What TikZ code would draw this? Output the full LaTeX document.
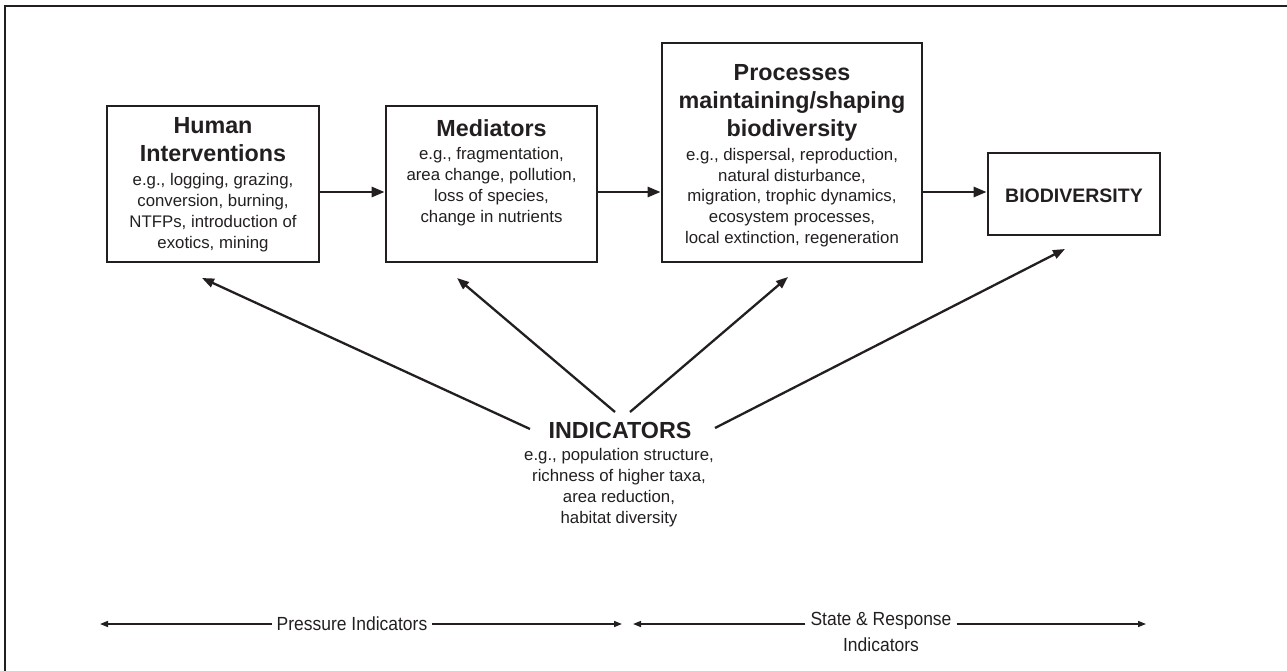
\documentclass[tikz,border=0pt]{standalone}
\usepackage{fontspec}
\setmainfont{Liberation Sans}
\newfontfamily\narrowfont[FakeStretch=0.92]{Liberation Sans}
\usetikzlibrary{arrows.meta}
\definecolor{ink}{HTML}{231F20}
\tikzset{
  box/.style={draw=ink, line width=2.8pt, minimum width=#1, inner sep=0pt},
  ttl/.style={text=ink, align=center, inner sep=0pt, font=\bfseries\fontsize{23.3}{28}\selectfont},
  bdy/.style={text=ink, align=center, inner sep=0pt, font=\fontsize{16.8}{20.8}\selectfont},
  harr/.style={draw=ink, line width=2.8pt, -{Triangle[length=13pt,width=10pt]}},
  darr/.style={draw=ink, line width=2.3pt, -{Triangle[length=12pt,width=9pt]}},
  barr/.style={draw=ink, line width=1.5pt, -{Triangle[length=8pt,width=6pt]}},
  blab/.style={text=ink, align=center, inner xsep=5pt, inner ysep=0pt, font=\narrowfont\fontsize{19}{26}\selectfont},
}
\begin{document}
\begin{tikzpicture}[x=1pt,y=-1pt]
\useasboundingbox (0,0) rectangle (1287,671);
% frame
\draw[ink, line width=2pt] (1287,6) -- (4.5,6) -- (4.5,671);
% boxes
\node[box=212pt, minimum height=156pt] (hbox) at (213,184) {};
\node[box=211pt, minimum height=156pt] (mbox) at (491.5,184) {};
\node[box=260pt, minimum height=219pt] (pbox) at (792,152.5) {};
\node[box=172pt, minimum height=82pt] (bbox) at (1074,194) {};
% texts
\node[ttl] (htitle) at (213,139.5) {Human\\Interventions};
\node[bdy] (hbody) at (213,212.5) {e.g., logging, grazing,\\conversion, burning,\\NTFPs, introduction of\\exotics, mining};
\node[ttl] (mtitle) at (491.5,128) {Mediators};
\node[bdy] (mbody) at (491.5,186.5) {e.g., fragmentation,\\area change, pollution,\\loss of species,\\change in nutrients};
\node[ttl] (ptitle) at (792,102.5) {Processes\\maintaining/shaping\\biodiversity};
\node[bdy] (pbody) at (792,197.5) {e.g., dispersal, reproduction,\\natural disturbance,\\migration, trophic dynamics,\\ecosystem processes,\\local extinction, regeneration};
\node[ttl, font=\bfseries\fontsize{19.5}{24}\selectfont] (btitle) at (1074,196) {BIODIVERSITY};
\node[ttl] (ititle) at (620,430) {INDICATORS};
\node[bdy] (ibody) at (619,487.5) {e.g., population structure,\\richness of higher taxa,\\area reduction,\\habitat diversity};
% horizontal arrows
\coordinate (row) at (0,192);
\draw[harr] (hbox.east |- row) -- (mbox.west |- row);
\draw[harr] (mbox.east |- row) -- (pbox.west |- row);
\draw[harr] (pbox.east |- row) -- (bbox.west |- row);
% indicator arrows
\coordinate (s1) at (530,429);
\coordinate (s2) at (615,412);
\coordinate (s3) at (630,412);
\coordinate (s4) at (715,428);
\coordinate (t1) at (202,278);
\coordinate (t2) at (457,278);
\coordinate (t3) at (788,277);
\coordinate (t4) at (1065,249);
\draw[darr] (s1) -- (t1);
\draw[darr] (s2) -- (t2);
\draw[darr] (s3) -- (t3);
\draw[darr] (s4) -- (t4);
% bottom scale
\coordinate (bot) at (0,624);
\node[blab] (press) at (352,624) {Pressure Indicators};
\coordinate (pl) at (100,624);
\coordinate (pr) at (622,624);
\draw[barr] (press.west) -- (pl);
\draw[barr] (press.east) -- (pr);
\node[blab, anchor=north] (state) at (881,612) {State \& Response\\Indicators};
\coordinate (sl) at (633,624);
\coordinate (sr) at (1146,624);
\draw[barr] (state.west |- bot) -- (sl);
\draw[barr] (state.east |- bot) -- (sr);
\end{tikzpicture}
\end{document}
